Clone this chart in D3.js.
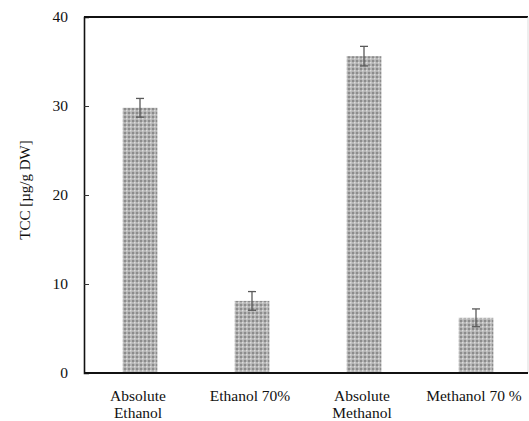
<!DOCTYPE html>
<html>
<head>
<meta charset="utf-8">
<script src="https://cdn.jsdelivr.net/npm/d3@7"></script>
<style>
    body { margin: 0; background: #fff; }
    svg text { font-family: "Liberation Serif", "DejaVu Serif", serif; fill: #111; }
</style>
</head>
<body>
<svg id="chart"></svg>
<script>
'use strict';

const WIDTH = 529;
const HEIGHT = 421;

// data
var categories = [["Absolute", "Ethanol"], ["Ethanol 70%"], ["Absolute", "Methanol"], ["Methanol 70 %"]];
var values = [29.8, 8.1, 35.6, 6.2];
var errors = [1.05, 1.05, 1.1, 1.0];
var yTicks = [0, 10, 20, 30, 40];

var margin = {top: 17, left: 84, bottom: 373, right: 528};

var svg = d3.select("#chart")
    .attr("width", WIDTH)
    .attr("height", HEIGHT);

// dotted fill like the excel pattern
var defs = svg.append("defs");
var pat = defs.append("pattern")
    .attr("id", "dots")
    .attr("patternUnits", "userSpaceOnUse")
    .attr("width", 4)
    .attr("height", 4);
pat.append("rect").attr("width", 4).attr("height", 4).attr("fill", "#b4b4b4");
pat.append("rect").attr("x", 0).attr("y", 0).attr("width", 2).attr("height", 2).attr("fill", "#8c8c8c");
pat.append("rect").attr("x", 2).attr("y", 2).attr("width", 1.5).attr("height", 1.5).attr("fill", "#dcdcdc");

var x = d3.scaleBand()
    .domain(d3.range(categories.length))
    .range([margin.left, margin.left + 112 * categories.length])
    .paddingInner(0.69)
    .paddingOuter(0.345);

var y = d3.scaleLinear()
    .domain([0, 40])
    .range([margin.bottom, margin.top]);

// bars
svg.selectAll(".bar")
    .data(values)
    .enter()
    .append("rect")
    .attr("class", "bar")
    .attr("x", function (d, i) { return x(i); })
    .attr("y", function (d) { return y(d); })
    .attr("width", x.bandwidth())
    .attr("height", function (d) { return y(0) - y(d); })
    .attr("fill", "url(#dots)");

// error bars
var eb = svg.selectAll(".err")
    .data(values)
    .enter()
    .append("g")
    .attr("class", "err")
    .attr("stroke", "#5a5a5a")
    .attr("stroke-width", 1.3);
eb.append("line")
    .attr("x1", function (d, i) { return x(i) + x.bandwidth() / 2; })
    .attr("x2", function (d, i) { return x(i) + x.bandwidth() / 2; })
    .attr("y1", function (d, i) { return y(d - errors[i]); })
    .attr("y2", function (d, i) { return y(d + errors[i]); });
eb.append("line")
    .attr("x1", function (d, i) { return x(i) + x.bandwidth() / 2 - 4; })
    .attr("x2", function (d, i) { return x(i) + x.bandwidth() / 2 + 4; })
    .attr("y1", function (d, i) { return y(d + errors[i]); })
    .attr("y2", function (d, i) { return y(d + errors[i]); });
eb.append("line")
    .attr("x1", function (d, i) { return x(i) + x.bandwidth() / 2 - 4; })
    .attr("x2", function (d, i) { return x(i) + x.bandwidth() / 2 + 4; })
    .attr("y1", function (d, i) { return y(d - errors[i]); })
    .attr("y2", function (d, i) { return y(d - errors[i]); });

// frame: top and faint right edge
svg.append("line")
    .attr("x1", margin.left).attr("x2", margin.right)
    .attr("y1", margin.top).attr("y2", margin.top)
    .attr("stroke", "#111").attr("stroke-width", 2);
svg.append("line")
    .attr("x1", margin.right).attr("x2", margin.right)
    .attr("y1", margin.top).attr("y2", margin.bottom)
    .attr("stroke", "#ddd").attr("stroke-width", 1);

var yAxis = svg.append("g")
    .attr("transform", "translate(" + margin.left + ",0)")
    .call(d3.axisLeft(y).tickValues(yTicks).tickSize(-5).tickPadding(16).tickFormat(d3.format("d")));
yAxis.select(".domain").attr("stroke", "#111").attr("stroke-width", 1.6);
yAxis.selectAll(".tick line").attr("stroke", "#333");
yAxis.selectAll(".tick text")
    .style("font-size", "15.5px")
    .style("font-family", "'Liberation Serif', serif")
    .attr("fill", "#111");
yAxis.selectAll(".tick").filter(function (d) { return d === 0 || d === 40; }).select("line").remove();

svg.append("line")
    .attr("x1", margin.left).attr("x2", margin.right)
    .attr("y1", margin.bottom).attr("y2", margin.bottom)
    .attr("stroke", "#111").attr("stroke-width", 2);

// category labels
var labels = svg.selectAll(".cat")
    .data(categories)
    .enter()
    .append("text")
    .attr("class", "cat")
    .attr("text-anchor", "middle")
    .style("font-size", "15.5px");
labels.selectAll("tspan")
    .data(function (d, i) { return d.map(function (t) { return {t: t, i: i}; }); })
    .enter()
    .append("tspan")
    .attr("x", function (d) { return x(d.i) + x.bandwidth() / 2 - 2; })
    .attr("y", function (d, j) { return 401 + j * 17; })
    .text(function (d) { return d.t; });

// y label
svg.append("text")
    .attr("transform", "translate(30,190) rotate(-90)")
    .attr("text-anchor", "middle")
    .style("font-size", "15px")
    .text("TCC [µg/g DW]");
</script>
</body>
</html>
